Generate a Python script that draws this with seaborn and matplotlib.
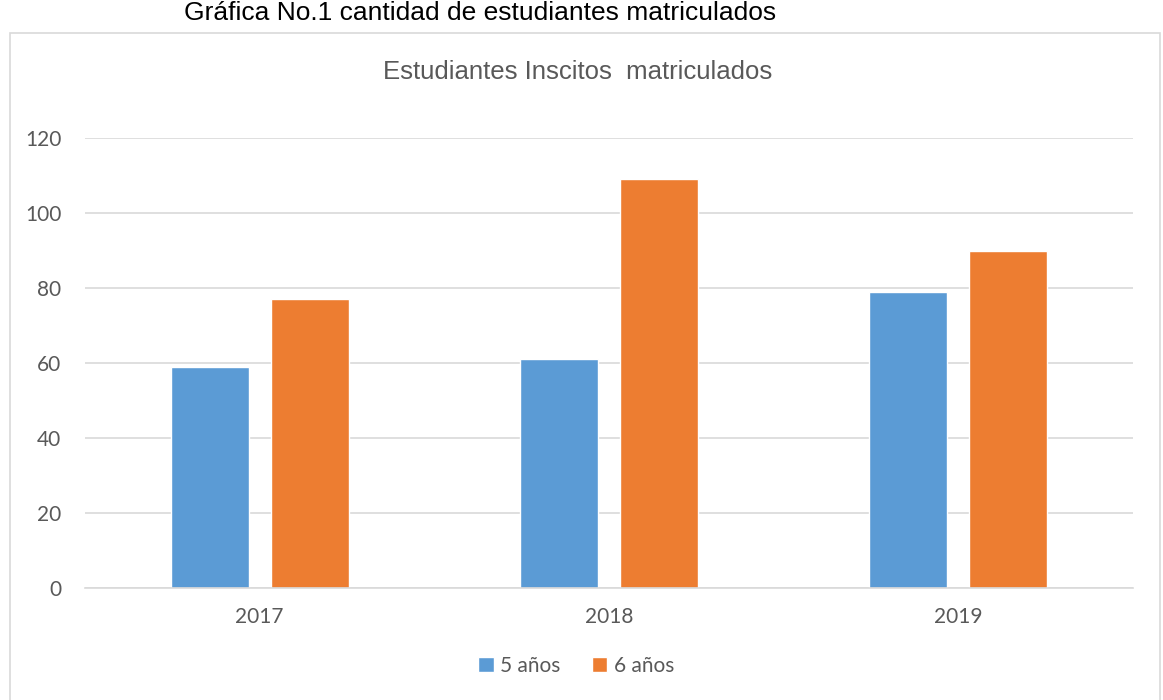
import pandas as pd
import seaborn as sns
import matplotlib.pyplot as plt
from matplotlib.patches import Rectangle

years = ["2017", "2018", "2019"]
series = ["5 años", "6 años"]
cinco = [59, 61, 79]
seis = [77, 109, 90]
colors = ["#5B9BD5", "#ED7D31"]

df = pd.DataFrame({
    "year": years * 2,
    "grupo": [series[0]] * 3 + [series[1]] * 3,
    "value": cinco + seis,
})

sns.set_style("white")
plt.rcParams["font.family"] = ["Lato", "DejaVu Sans"]
grey = "#595959"

fig = plt.figure(figsize=(11.63, 7.0), dpi=100)
ax = fig.add_axes([85 / 1163, 1 - 588 / 700, 1048 / 1163, 450 / 700])

sns.barplot(df, x="year", y="value", hue="grupo", palette=colors,
            width=0.572, gap=0.22, saturation=1, ax=ax, legend=True)

ax.set_ylim(0, 120)
ax.set_yticks(range(0, 121, 20))
ax.set_axisbelow(True)
ax.yaxis.grid(True, color="#D9D9D9", linewidth=1.2)
for s in ["top", "right", "left"]:
    ax.spines[s].set_visible(False)
ax.spines["bottom"].set_color("#D9D9D9")
ax.spines["bottom"].set_linewidth(1.2)
ax.tick_params(axis="both", length=0, labelsize=15, colors=grey)
ax.tick_params(axis="y", pad=17)
ax.tick_params(axis="x", pad=14)
ax.set_xlabel("")
ax.set_ylabel("")

handles, labels = ax.get_legend_handles_labels()
ax.legend(handles, labels, loc="center", bbox_to_anchor=(576 / 1163, 1 - 666 / 700),
          bbox_transform=fig.transFigure, ncol=2, frameon=False, fontsize=15,
          handlelength=0.75, handleheight=0.75, handletextpad=0.3, columnspacing=1.5,
          labelcolor=grey)

# outer frame of the chart area
fig.patches.append(Rectangle((10 / 1163, -0.05), 1150 / 1163, 1 - 33 / 700 + 0.05,
                             transform=fig.transFigure, fill=False,
                             edgecolor="#D9D9D9", linewidth=1.2))

fig.text(480 / 1163, 1 - 13 / 700, "Gráfica No.1 cantidad de estudiantes matriculados",
         ha="center", va="center", fontsize=19, color="black",
         family=["Liberation Sans", "DejaVu Sans"])
fig.text(578 / 1163, 1 - 72 / 700, "Estudiantes Inscitos  matriculados",
         ha="center", va="center", fontsize=18.5, color=grey,
         family=["Liberation Sans", "DejaVu Sans"])

fig.savefig("out.png", dpi=100)
